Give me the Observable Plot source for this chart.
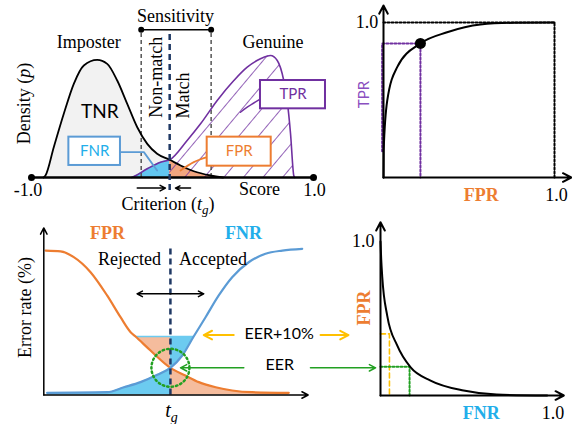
<!DOCTYPE html>
<html><head><meta charset="utf-8">
<script src="https://cdn.jsdelivr.net/npm/d3@7"></script>
<script src="https://cdn.jsdelivr.net/npm/@observablehq/plot@0.6"></script>
<style>
html,body{margin:0;padding:0;background:#fff;}
#fig{position:relative;width:572px;height:424px;overflow:hidden;background:#fff;}
</style></head><body>
<svg width="0" height="0" style="position:absolute">
<defs><pattern id="hatch" patternUnits="userSpaceOnUse" width="15" height="15" patternTransform="rotate(40)">
<line x1="0" y1="-2" x2="0" y2="17" stroke="#7030a0" stroke-width="1.5"/></pattern></defs></svg>
<div id="fig"></div>
<script>
// ---------- Panel A: score distributions ----------
const impScore   = [-0.915,-0.901,-0.842,-0.771,-0.700,-0.629,-0.534,-0.463,-0.392,-0.321,-0.250,-0.179,-0.109,-0.02,0.057,0.151,0.270,0.36];
const impDensity = [0,0.017,0.257,0.540,0.794,0.949,0.997,0.963,0.822,0.624,0.426,0.285,0.201,0.150,0.102,0.053,0.017,0];
const genScore   = [-0.29,-0.274,-0.179,-0.085,-0.02,0.104,0.199,0.317,0.435,0.530,0.624,0.695,0.743,0.789,0.813,0.837,0.860,0.866];
const genDensity = [0,0.008,0.074,0.130,0.150,0.314,0.455,0.653,0.822,0.935,1.006,1.034,0.992,0.822,0.653,0.373,0.017,0];
const criterion = -0.02;
const sensitivityRange = [-0.222, 0.274];
const scoreEnds = [-1, 1];

// ---------- Panel B: ROC ----------
const rocFPR = [0,0.001,0.022,0.080,0.216,0.372,0.567,0.760,1.0];
const rocTPR = [0,0.174,0.497,0.712,0.865,0.937,0.987,0.998,1.0];
const operatingPoint = {fpr: 0.216, tpr: 0.865};

// ---------- Panel C: error rates vs threshold ----------
const fprThr  = [0.007,0.065,0.116,0.181,0.245,0.297,0.336,0.355,0.413,0.490,0.548,0.600,0.665,0.729,0.806,0.948];
const fprRate = [0.988,0.982,0.943,0.840,0.681,0.532,0.430,0.400,0.304,0.186,0.133,0.088,0.053,0.031,0.019,0.015];
const fnrThr  = [0.013,0.245,0.310,0.374,0.439,0.490,0.536,0.580,0.626,0.677,0.729,0.793,0.858,0.923,1.0];
const fnrRate = [0.015,0.019,0.053,0.088,0.138,0.186,0.270,0.400,0.532,0.681,0.806,0.908,0.966,0.988,1.0];
const tg = 0.490, eer = 0.186, eerPlus = 0.40;

// ---------- Panel D: FPR vs FNR ----------
const detFNR = [0,0.004,0.01,0.039,0.097,0.174,0.291,0.483,0.675,0.969];
const detFPR = [1.0,0.888,0.773,0.519,0.325,0.184,0.097,0.032,0.006,0];
const eerPlusFNR = 0.052, eerFNR = 0.169;

// ---------- helpers ----------
const SERIF = "'Liberation Serif','Times New Roman',serif";
const SANS = "Lato,'Open Sans',sans-serif";
const ORANGE = "#ed7d31", BLUE = "#5b9bd5", SKY = "#22aeea", PURPLE = "#7030a0", NAVY = "#1f3864", GREEN = "#22a022", GOLD = "#ffc000";
const curve = "monotone-x";
const fig = document.getElementById("fig");
const T = (x, y, text, o = {}) => Plot.text([{x, y, text}], {x: "x", y: "y", text: "text", fontFamily: SERIF, fontSize: 18, fill: "#000", ...o});
const L = (pts, o = {}) => Plot.line(pts.map(([x, y]) => ({x, y})), {x: "x", y: "y", ...o});
const A = (x1, y1, x2, y2, o = {}) => Plot.arrow([{x1, y1, x2, y2}], {x1: "x1", y1: "y1", x2: "x2", y2: "y2", headLength: 7, headAngle: 55, strokeWidth: 1.5, stroke: "#000", ...o});
const R = (x1, x2, y1, y2, o = {}) => Plot.rect([{x1, x2, y1, y2}], {x1: "x1", x2: "x2", y1: "y1", y2: "y2", fill: "white", strokeWidth: 2, ...o});

function panel(left, top, width, height, m, marks) {
  const svg = Plot.plot({
    width, height, marginLeft: m[0], marginRight: m[1], marginTop: m[2], marginBottom: m[3],
    x: {domain: [0, 1], axis: null}, y: {domain: [0, 1], axis: null},
    style: {background: "transparent", overflow: "visible"},
    marks
  });
  svg.style.position = "absolute"; svg.style.left = left + "px"; svg.style.top = top + "px"; svg.style.maxWidth = "none";
  fig.append(svg);
  return svg;
}

// ---------- Panel A ----------
const imp = impScore.map((s, i) => ({s, d: impDensity[i]}));
const gen = genScore.map((s, i) => ({s, d: genDensity[i]}));
const svgA = Plot.plot({
  width: 330, height: 215, marginLeft: 31, marginRight: 17, marginTop: 59, marginBottom: 38,
  x: {domain: [-1, 1], axis: null}, y: {domain: [0, 1], axis: null},
  style: {background: "transparent", overflow: "visible"},
  marks: [
    Plot.areaY(imp.filter(p => p.s <= criterion), {x: "s", y: "d", fill: "#f2f2f2", curve}),
    Plot.areaY(gen.filter(p => p.s <= criterion), {x: "s", y: "d", fill: "#62c6f0", curve}),
    Plot.areaY(imp.filter(p => p.s >= criterion), {x: "s", y: "d", fill: "#f2a67f", curve}),
    Plot.areaY(gen.filter(p => p.s >= criterion), {x: "s", y: "d", fill: "url(#hatch)", curve}),
    Plot.ruleX(sensitivityRange, {x: d => d, y1: 0, y2: 1.252, stroke: "#555", strokeDasharray: "4,3", strokeWidth: 1.5}),
    Plot.lineY(gen, {x: "s", y: "d", stroke: PURPLE, strokeWidth: 1.6, curve}),
    Plot.lineY(imp, {x: "s", y: "d", stroke: "#000", strokeWidth: 1.8, curve}),
    Plot.ruleY([0], {x1: -1, x2: 1, stroke: "#000", strokeWidth: 2.5}),
    Plot.dot(scoreEnds, {x: d => d, y: 0, r: 3.5, fill: "#000"}),
    Plot.ruleY([1.252], {x1: sensitivityRange[0], x2: sensitivityRange[1], stroke: "#000", strokeWidth: 1.5}),
    Plot.dot(sensitivityRange, {x: d => d, y: 1.252, r: 3, fill: "#000"}),
    Plot.ruleX([criterion], {y1: -0.11, y2: 1.231, stroke: NAVY, strokeDasharray: "6,4", strokeWidth: 2.5}),
    // boxes and leaders
    L([[-0.369, 0.215], [-0.203, 0.215], [-0.109, 0.059]], {stroke: BLUE, strokeWidth: 1.8}),
    R(-0.735, -0.369, 0.102, 0.342, {stroke: BLUE}),
    T(-0.552, 0.222, "FNR", {fontFamily: SANS, fontSize: 15, fill: SKY}),
    L([[0.246, 0.172], [0.151, 0.13], [0.057, 0.059]], {stroke: ORANGE, strokeWidth: 1.8, curve: "catmull-rom"}),
    R(0.246, 0.700, 0.096, 0.342, {stroke: ORANGE}),
    T(0.473, 0.222, "FPR", {fontFamily: SANS, fontSize: 15, fill: ORANGE}),
    L([[0.624, 0.667], [0.530, 0.596], [0.482, 0.553]], {stroke: PURPLE, strokeWidth: 1.5, curve: "catmull-rom"}),
    R(0.624, 1.085, 0.582, 0.822, {stroke: PURPLE}),
    T(0.855, 0.705, "TPR", {fontFamily: SANS, fontSize: 15, fill: PURPLE}),
    // texts
    T(0.021, 1.364, "Sensitivity"),
    T(-0.594, 1.147, "Imposter"),
    T(0.713, 1.147, "Genuine"),
    T(-0.516, 0.553, "TNR", {fontFamily: SANS, fontSize: 19}),
    T(-0.115, 0.850, "Non-match", {rotate: -90}),
    T(0.074, 0.695, "Match", {rotate: -90}),
    T(-1.050, 0.627, "Density (p)", {rotate: -90}),
    T(-1.025, -0.108, "-1.0"),
    T(1.007, -0.108, "1.0"),
    T(0.617, -0.096, "Score"),
    T(-0.032, -0.223, "Criterion (tg)"),
    A(-0.250, -0.090, -0.050, -0.090, {headLength: 6}),
    A(0.128, -0.090, 0.021, -0.090, {headLength: 6})
  ]
});
svgA.style.cssText += "position:absolute;left:0px;top:0px;max-width:none;";
fig.append(svgA);

// ---------- Panel B ----------
const roc = rocFPR.map((x, i) => ({x, y: rocTPR[i]}));
panel(330, 0, 242, 215, [53, 18, 22, 38], [
  L([[0, 1], [1, 1], [1, 0]], {stroke: "#000", strokeWidth: 2, strokeDasharray: "2,2"}),
  L([[-0.008, 0.17], [-0.008, operatingPoint.tpr], [operatingPoint.fpr, operatingPoint.tpr], [operatingPoint.fpr, 0]], {stroke: PURPLE, strokeWidth: 2, strokeDasharray: "2,2"}),
  Plot.line(roc, {x: "x", y: "y", stroke: "#000", strokeWidth: 2, curve}),
  A(0, 0, 0, 1.11, {strokeWidth: 2}),
  A(0, 0, 1.098, 0, {strokeWidth: 2}),
  Plot.dot([operatingPoint], {x: "fpr", y: "tpr", r: 5.5, fill: "#000"}),
  T(-0.03, 1.0, "1.0", {textAnchor: "end"}),
  T(1.011, -0.116, "1.0"),
  T(0.572, -0.116, "FPR", {fontWeight: "bold", fill: ORANGE}),
  T(-0.111, 0.535, "TPR", {fontFamily: SANS, fontSize: 15, fill: "#8a4fc0", rotate: -90})
]);

// ---------- Panel D ----------
const det = detFNR.map((x, i) => ({x, y: detFPR[i]}));
panel(330, 215, 242, 209, [50, 20, 26, 29], [
  L([[0, eerPlus], [eerPlusFNR, eerPlus], [eerPlusFNR, 0]], {stroke: GOLD, strokeWidth: 1.6, strokeDasharray: "5,3"}),
  L([[0, eer], [eerFNR, eer], [eerFNR, 0]], {stroke: GREEN, strokeWidth: 2, strokeDasharray: "2,2"}),
  Plot.line(det, {x: "x", y: "y", stroke: "#000", strokeWidth: 2, curve}),
  A(0, 0, 0, 1.125, {strokeWidth: 2}),
  A(0, 0, 1.066, 0, {strokeWidth: 2}),
  T(-0.035, 1.0, "1.0", {textAnchor: "end"}),
  T(1.003, -0.113, "1.0"),
  T(0.586, -0.113, "FNR", {fontWeight: "bold", fill: SKY}),
  T(-0.097, 0.568, "FPR", {fontWeight: "bold", fill: ORANGE, rotate: -90})
]);

// ---------- Panel C ----------
const fprC = fprThr.map((x, i) => ({x, y: fprRate[i]}));
const fnrC = fnrThr.map((x, i) => ({x, y: fnrRate[i]}));
const svgC = panel(0, 215, 330, 209, [43.3, 28.3, 33.3, 29.5], [
  Plot.areaY(fnrC.filter(p => p.x <= tg), {x: "x", y1: 0, y2: "y", fill: "#6ccbf0", curve}),
  Plot.areaY(fnrC.filter(p => p.x >= tg && p.y <= eerPlus), {x: "x", y1: "y", y2: eerPlus, fill: "#6ccbf0", curve}),
  Plot.areaY(fprC.filter(p => p.x >= tg), {x: "x", y1: 0, y2: "y", fill: "#f5bc9d", curve}),
  Plot.areaY(fprC.filter(p => p.x <= tg && p.y <= eerPlus), {x: "x", y1: "y", y2: eerPlus, fill: "#f5bc9d", curve}),
  Plot.ruleY([eerPlus], {x1: 0.355, x2: 0.580, stroke: "#6ccbf0", strokeWidth: 1.5}),
  Plot.line(fprC, {x: "x", y: "y", stroke: ORANGE, strokeWidth: 2.2, curve}),
  Plot.line(fnrC, {x: "x", y: "y", stroke: BLUE, strokeWidth: 2.2, curve}),
  Plot.ruleX([tg], {y1: 0, y2: 1.0, stroke: NAVY, strokeDasharray: "6,4", strokeWidth: 2.5}),
  Plot.dot([{x: tg, y: eer}], {x: "x", y: "y", r: 19, stroke: GREEN, strokeWidth: 2.5, strokeDasharray: "1.5,3", fill: "none", strokeLinecap: "round"}),
  A(0, 0, 0, 1.143, {strokeWidth: 1.5}),
  A(0, 0, 1.023, 0, {strokeWidth: 1.5}),
  A(tg, 0.692, 0.361, 0.692, {headLength: 6}),
  A(tg, 0.692, 0.619, 0.692, {headLength: 6}),
  A(0.735, 0.41, 0.619, 0.41, {stroke: GOLD, strokeWidth: 2}),
  A(1.071, 0.41, 1.179, 0.41, {stroke: GOLD, strokeWidth: 2}),
  A(0.774, eer, 0.529, eer, {stroke: GREEN, strokeWidth: 1.5}),
  A(1.032, eer, 1.284, eer, {stroke: GREEN, strokeWidth: 1.5}),
  T(0.247, 1.105, "FPR", {fontWeight: "bold", fill: ORANGE}),
  T(0.773, 1.105, "FNR", {fontWeight: "bold", fill: SKY}),
  T(0.332, 0.927, "Rejected"),
  T(0.655, 0.927, "Accepted"),
  T(-0.071, 0.598, "Error rate (%)", {rotate: -90}),
  T(0.494, -0.106, "tg", {fontSize: 20}),
  T(0.777, 0.42, "EER+10%", {fontFamily: SANS, fontSize: 16, textAnchor: "start"}),
  T(0.858, 0.205, "EER", {fontFamily: SANS, fontSize: 16, textAnchor: "start"})
]);

// ---------- rich text (italics / subscripts) ----------
document.querySelectorAll("#fig text").forEach(el => {
  const s = el.textContent;
  if (s === "Density (p)") el.innerHTML = 'Density (<tspan font-style="italic">p</tspan>)';
  else if (s === "Criterion (tg)") el.innerHTML = 'Criterion (<tspan font-style="italic">t</tspan><tspan font-style="italic" font-size="13" dy="4">g</tspan><tspan dy="-4">)</tspan>';
  else if (s === "tg") el.innerHTML = '<tspan font-style="italic">t</tspan><tspan font-style="italic" font-size="14" dy="5">g</tspan>';
});
</script>
</body></html>
